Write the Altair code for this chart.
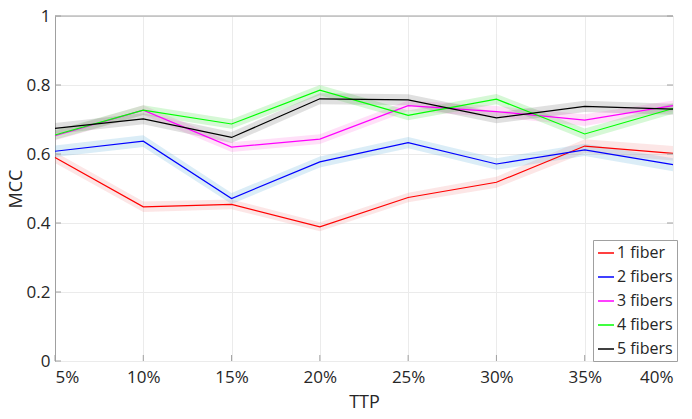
import altair as alt
import pandas as pd

ttp = [5, 10, 15, 20, 25, 30, 35, 40]
series = ["1 fiber", "2 fibers", "3 fibers", "4 fibers", "5 fibers"]
bands_names = ["band 1", "band 2", "band 3", "band 4", "band 5"]
mcc_1 = [0.590, 0.447, 0.454, 0.389, 0.474, 0.518, 0.623, 0.602]
mcc_2 = [0.608, 0.637, 0.471, 0.577, 0.633, 0.571, 0.612, 0.569]
mcc_3 = [0.653, 0.727, 0.620, 0.643, 0.740, 0.723, 0.698, 0.740]
mcc_4 = [0.655, 0.727, 0.687, 0.785, 0.712, 0.759, 0.658, 0.732]
mcc_5 = [0.674, 0.702, 0.648, 0.760, 0.757, 0.705, 0.738, 0.730]
err_1 = [0.016, 0.015, 0.014, 0.013, 0.014, 0.016, 0.020, 0.021]
err_2 = [0.017, 0.017, 0.016, 0.016, 0.016, 0.017, 0.018, 0.019]
err_3 = [0.014, 0.014, 0.014, 0.014, 0.015, 0.016, 0.017, 0.015]
err_4 = [0.014, 0.014, 0.014, 0.015, 0.014, 0.015, 0.016, 0.015]
err_5 = [0.016, 0.016, 0.016, 0.016, 0.016, 0.016, 0.016, 0.016]
line_colors = ["#ff0000", "#0000ff", "#ff00ff", "#00ff00", "#000000"]
band_colors = ["#f08080", "#4da6d9", "#ff66dd", "#33dd33", "#666666"]
y_ticks = [0, 0.2, 0.4, 0.6, 0.8, 1]

rows = []
for name, bname, vals, errs in zip(series, bands_names,
                                   [mcc_1, mcc_2, mcc_3, mcc_4, mcc_5],
                                   [err_1, err_2, err_3, err_4, err_5]):
    for t, v, e in zip(ttp, vals, errs):
        rows.append({"TTP": t, "MCC": v, "lo": v - e, "hi": v + e,
                     "series": name, "band": bname})
df = pd.DataFrame(rows)

W, H = 618, 345
FONT = "Open Sans"
TXT = "#262626"

x_enc = alt.X("TTP:Q", scale=alt.Scale(domain=[5, 40], nice=False),
              axis=alt.Axis(values=ttp, labelExpr="datum.value + '%'", title="TTP",
                            grid=True, gridColor="#ebebeb", domain=False, ticks=False,
                            labelFontSize=17, labelColor=TXT, labelPadding=8,
                            titleFontSize=18, titleColor=TXT, titleFontWeight="normal",
                            titlePadding=8, labelFont=FONT, titleFont=FONT))
y_scale = alt.Scale(domain=[0, 1], nice=False)
y_axis = alt.Axis(values=y_ticks, format="~g", title="MCC", grid=True, gridColor="#ebebeb",
                  domain=True, domainColor="#a0a0a0", ticks=False,
                  labelFontSize=17, labelColor=TXT, labelPadding=5,
                  titleFontSize=18, titleColor=TXT, titleFontWeight="normal",
                  titlePadding=1, labelFont=FONT, titleFont=FONT)

bands = alt.Chart(df).mark_area(opacity=0.2).encode(
    x=x_enc,
    y=alt.Y("lo:Q", scale=y_scale, axis=y_axis),
    y2="hi:Q",
    fill=alt.Fill("band:N", scale=alt.Scale(domain=bands_names, range=band_colors),
                  legend=None),
)

lines = alt.Chart(df).mark_line(strokeWidth=1.2).encode(
    x="TTP:Q",
    y="MCC:Q",
    stroke=alt.Stroke("series:N", scale=alt.Scale(domain=series, range=line_colors),
                      legend=alt.Legend(title=None, orient="none", legendX=538, legendY=224,
                                        fillColor="white", strokeColor="#a0a0a0",
                                        padding=4, labelFontSize=16, labelFont=FONT,
                                        labelColor=TXT, symbolType="stroke",
                                        symbolSize=256, symbolStrokeWidth=1.5,
                                        rowPadding=7, labelOffset=2)),
)

ydf = pd.DataFrame({"v": y_ticks})
xdf = pd.DataFrame({"t": ttp})
left_ticks = alt.Chart(ydf).mark_rule(color="#a0a0a0").encode(
    y="v:Q", x=alt.value(0), x2=alt.value(6))
right_ticks = alt.Chart(ydf).mark_rule(color="#a0a0a0").encode(
    y="v:Q", x=alt.value(W - 6), x2=alt.value(W))
bottom_ticks = alt.Chart(xdf).mark_rule(color="#a0a0a0").encode(
    x="t:Q", y=alt.value(H - 6), y2=alt.value(H))
top_line = alt.Chart(ydf.head(1)).mark_rule(color="#a0a0a0").encode(
    x=alt.value(0), x2=alt.value(W), y=alt.value(0))

chart = alt.layer(bands, lines, left_ticks, right_ticks, bottom_ticks, top_line).properties(
    width=W, height=H,
    autosize=alt.AutoSizeParams(type="none"),
    padding={"left": 47, "top": 8, "right": 11, "bottom": 50},
).configure_view(stroke=None).configure(font=FONT)

chart.save("out.html", embed_options={"renderer": "svg", "actions": False})
